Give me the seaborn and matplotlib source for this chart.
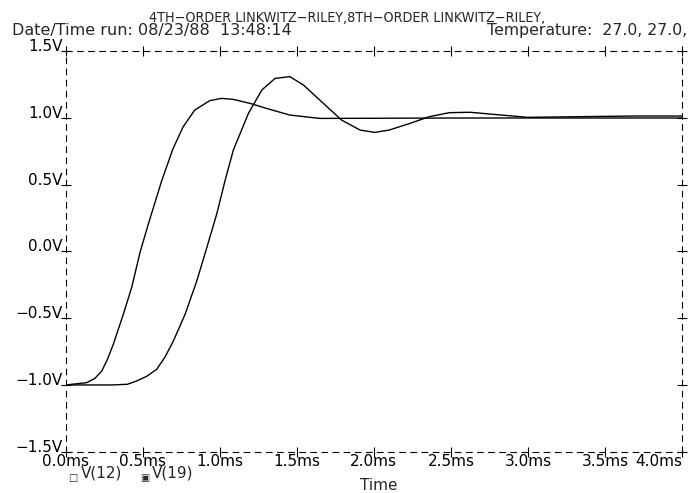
import numpy as np
import pandas as pd
import matplotlib
matplotlib.use("Agg")
import matplotlib.pyplot as plt
import seaborn as sns

# 4th order step response, V(12)
t_12 = [0.0, 0.136, 0.19, 0.234, 0.27, 0.309, 0.374, 0.428, 0.482, 0.536, 0.623, 0.697,
        0.762, 0.838, 0.935, 1.01, 1.086, 1.195, 1.303, 1.455, 1.65, 2.0,
        2.5, 3.0, 3.5, 4.0]
v_12 = [-1.0, -0.983, -0.95, -0.895, -0.81, -0.695, -0.47, -0.27, -0.008, 0.205, 0.53, 0.772,
        0.934, 1.06, 1.13, 1.147, 1.14, 1.11, 1.072, 1.022, 0.997, 0.998,
        1.0, 1.0, 1.0, 1.0]

# 8th order step response, V(19)
t_19 = [0.0, 0.3, 0.4, 0.461, 0.526, 0.591, 0.645, 0.699, 0.775, 0.851, 0.916, 0.98, 1.034,
        1.088, 1.186, 1.273, 1.359, 1.455, 1.543, 1.672, 1.79, 1.91, 2.006,
        2.1, 2.235, 2.36, 2.49, 2.625, 2.8, 3.0, 3.34, 3.7, 4.0]
v_19 = [-1.0, -1.0, -0.995, -0.97, -0.935, -0.882, -0.79, -0.67, -0.47, -0.22, 0.03, 0.28, 0.53,
        0.76, 1.035, 1.21, 1.297, 1.31, 1.247, 1.11, 0.985, 0.91, 0.892,
        0.91, 0.96, 1.01, 1.04, 1.043, 1.025, 1.005, 1.01, 1.015, 1.015]

x_ticks = [0.0, 0.5, 1.0, 1.5, 2.0, 2.5, 3.0, 3.5, 4.0]
x_labels = ["0.0ms", "0.5ms", "1.0ms", "1.5ms", "2.0ms", "2.5ms", "3.0ms", "3.5ms", "4.0ms"]
y_ticks = [-1.5, -1.0, -0.5, 0.0, 0.5, 1.0, 1.5]
y_labels = ["\u22121.5V", "\u22121.0V", "\u22120.5V", "0.0V", "0.5V", "1.0V", "1.5V"]

title1 = "4TH\u2212ORDER LINKWITZ\u2212RILEY,8TH\u2212ORDER LINKWITZ\u2212RILEY,"
title2 = "Date/Time run: 08/23/88  13:48:14"
title3 = "Temperature:  27.0, 27.0,"

df = pd.concat([
    pd.DataFrame({"t": t_12, "v": v_12, "trace": "V(12)"}),
    pd.DataFrame({"t": t_19, "v": v_19, "trace": "V(19)"}),
])

sns.set_theme(style="white")
plt.rcParams["font.family"] = ["DejaVu Sans"]

fig = plt.figure(figsize=(6.94, 4.93), dpi=100)
ax = fig.add_axes([0.0947, 0.0838, 0.888, 0.8122])

sns.lineplot(data=df, x="t", y="v", units="trace", estimator=None, sort=False,
             color="black", linewidth=1.0, ax=ax, legend=False)

ax.set_xlim(0, 4.0)
ax.set_ylim(-1.5, 1.5)
ax.set_xticks(x_ticks)
ax.set_xticklabels(x_labels)
ax.set_yticks(y_ticks)
ax.set_yticklabels(y_labels, va="baseline")
ax.set_xlabel("")
ax.set_ylabel("")
ax.get_xticklabels()[-1].set_ha("right")

for s in ax.spines.values():
    s.set_visible(True)
    s.set_color("black")
    s.set_linewidth(0.8)
    s.set_linestyle((0, (5, 5)))

ax.tick_params(axis="both", which="major", direction="inout", length=7, width=0.8,
               color="black", labelsize=11, labelcolor="black")
ax.tick_params(axis="x", top=True, bottom=True, pad=-1.5)
ax.tick_params(axis="y", left=True, right=True, pad=-1.5)

fig.text(0.5, 0.955, title1, ha="center", va="baseline", fontsize=10.3,
         fontstretch="condensed")
fig.text(0.017, 0.929, title2, ha="left", va="baseline", fontsize=11.5)
fig.text(0.99, 0.929, title3, ha="right", va="baseline", fontsize=11.3)

# legend marks under the axis
fig.text(0.105, 0.025, "\u25a1", ha="center", va="baseline", fontsize=7)
fig.text(0.116, 0.032, "V(12)", ha="left", va="baseline", fontsize=11)
fig.text(0.208, 0.025, "\u25a3", ha="center", va="baseline", fontsize=7)
fig.text(0.219, 0.032, "V(19)", ha="left", va="baseline", fontsize=11)
fig.text(0.546, 0.007, "Time", ha="center", va="baseline", fontsize=11)

fig.savefig("out.png", dpi=100)
